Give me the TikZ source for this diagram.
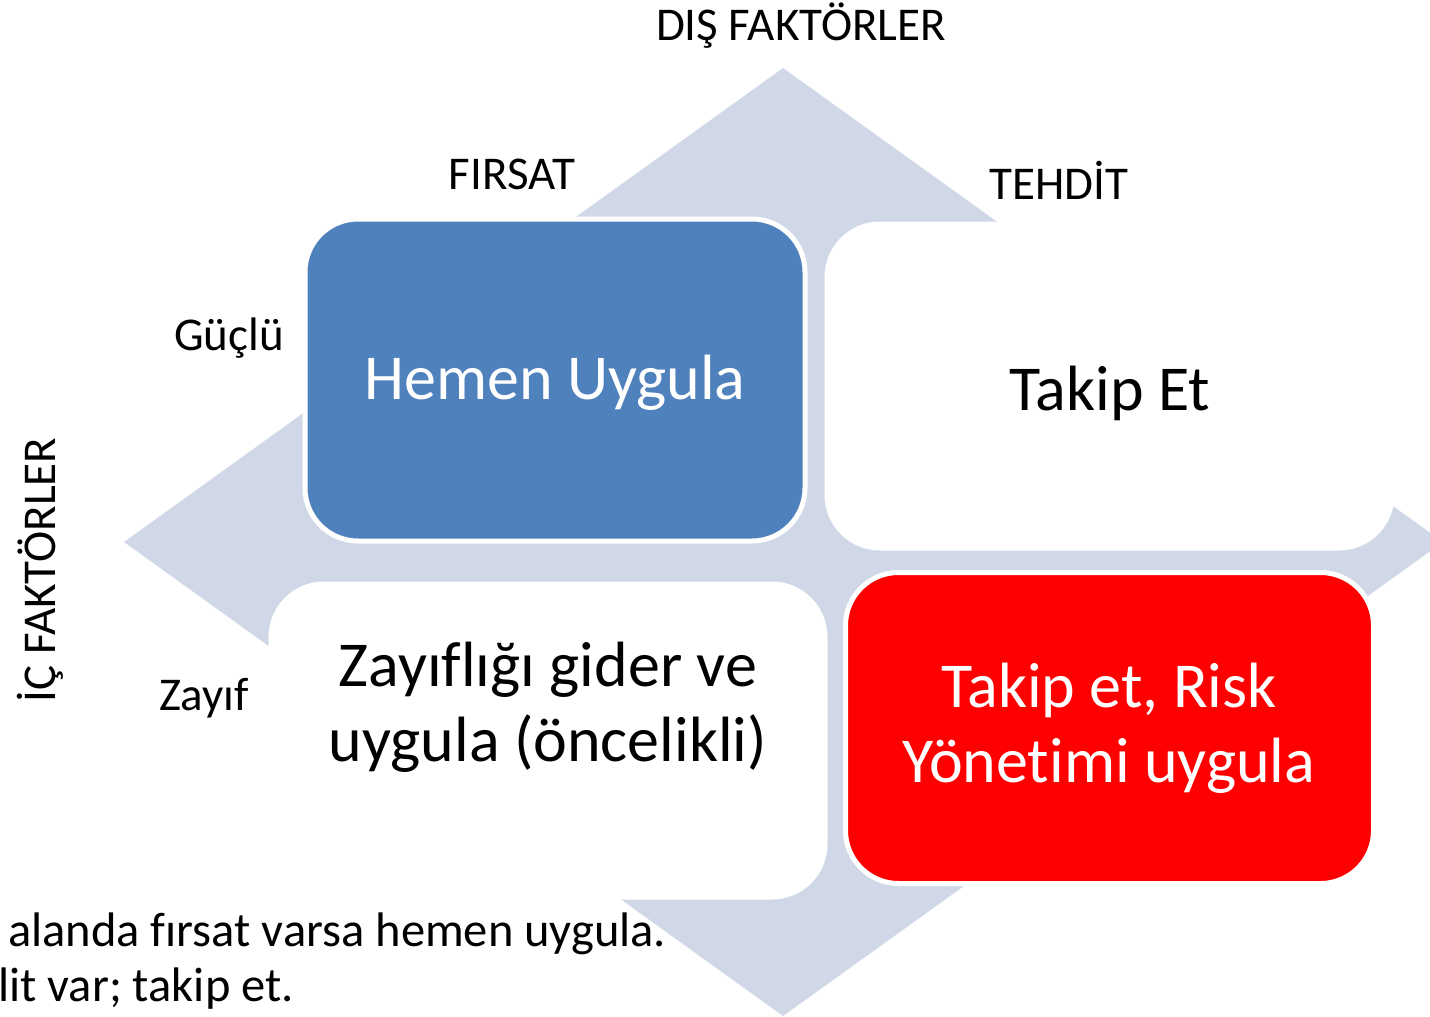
\documentclass[tikz,border=0pt]{standalone}
\usepackage{fontspec}
\setmainfont{Carlito}[Ligatures=NoCommon]
\definecolor{arrowgray}{RGB}{208,216,232}
\definecolor{boxblue}{RGB}{79,129,189}
\definecolor{boxred}{RGB}{255,0,0}
\begin{document}
\begin{tikzpicture}[x=1pt,y=-1pt,
  lbl/.style={font=\fontsize{47}{56}\selectfont, inner sep=0pt, anchor=base},
  boxtxt/.style={font=\fontsize{64}{75}\selectfont, inner sep=0pt, align=center},
  quad/.style={draw=white, line width=5pt, rounded corners=53pt, inner sep=0pt, rectangle},
  bottomtxt/.style={font=\fontsize{48.5}{56}\selectfont, inner sep=0pt, anchor=base west}]
\useasboundingbox (0,0) rectangle (1430,1017);
\clip (0,0) rectangle (1430,1017);
% background quad arrow (visible part is a rhombus)
\fill[arrowgray] (783,68) -- (1443,542) -- (783,1016) -- (124,542) -- cycle;
% four boxes
\node[quad, fill=boxblue, minimum width=500pt, minimum height=322pt] (hemenbox) at (555,380) {};
\node[quad, fill=white, minimum width=565pt, minimum height=324pt] (takipbox) at (1109.5,386) {};
\node[quad, fill=white, minimum width=554pt, minimum height=313pt] (zayifbox) at (548,740.5) {};
\node[quad, fill=boxred, minimum width=528pt, minimum height=311pt] (riskbox) at (1109.5,728) {};
% box texts
\node[boxtxt, text=white, anchor=base] (t1) at (555,399) {Hemen Uygula};
\node[boxtxt, anchor=base] (t2) at (1110,410) {Takip Et};
\node[boxtxt] (t3) at (548,707) {Zayıflığı gider ve\\uygula (öncelikli)};
\node[boxtxt, text=white] (t4) at (1109,728) {Takip et, Risk\\Yönetimi uygula};
% axis labels
\node[lbl] (dis) at (801,40) {DIŞ FAKTÖRLER};
\node[lbl] (firsat) at (512,189) {FIRSAT};
\node[lbl] (tehdit) at (1059,199) {TEHDİT};
\node[lbl] (guclu) at (229,350) {Güçlü};
\node[lbl] (zayif) at (204,710) {Zayıf};
\node[lbl, rotate=90] (ic) at (55,570) {İÇ FAKTÖRLER};
% bottom text (cut off at the left)
\node[bottomtxt] (b1) at (8,946) {alanda fırsat varsa hemen uygula.};
\node[bottomtxt] (b2) at (-2,1001) {lit var; takip et.};
\end{tikzpicture}
\end{document}
